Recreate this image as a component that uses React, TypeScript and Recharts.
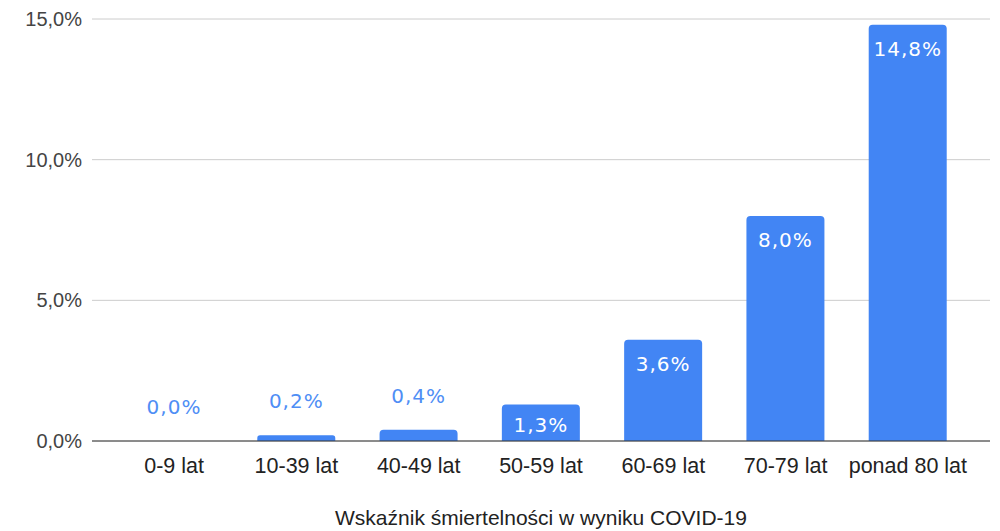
import { BarChart, Bar, XAxis, YAxis, CartesianGrid, LabelList, Rectangle } from 'recharts';

const categories = ['0-9 lat', '10-39 lat', '40-49 lat', '50-59 lat', '60-69 lat', '70-79 lat', 'ponad 80 lat'];
const rates = [0.0, 0.2, 0.4, 1.3, 3.6, 8.0, 14.8];
const yTicks = [0, 5, 10, 15];

const data = categories.map((name, i) => ({ name, value: rates[i] }));

const pct = (v: number) => v.toFixed(1).replace('.', ',') + '%';

// eslint-disable-next-line @typescript-eslint/no-explicit-any
function BarShape(props: any) {
  if (!props.value) return null;
  return <Rectangle {...props} />;
}

// eslint-disable-next-line @typescript-eslint/no-explicit-any
function BarLabel(props: any) {
  const { x, y, width, height, value } = props;
  const inside = value >= 1;
  const cx = x + width / 2;
  const cy = inside ? y + Math.min(24, height / 2 + 2) : y - 34;
  return (
    <text
      x={cx}
      y={cy}
      textAnchor="middle"
      dominantBaseline="central"
      fontFamily="'DejaVu Sans', Verdana, sans-serif"
      fontSize={20}
      letterSpacing={1}
      fill={inside ? '#ffffff' : '#4f8ef5'}
    >
      {pct(value)}
    </text>
  );
}

export default function App() {
  return (
    <div style={{ position: 'absolute', left: 0, top: 0, background: '#fff' }}>
      <BarChart
        width={1000}
        height={531}
        data={data}
        margin={{ top: 19, right: 10, left: 0, bottom: 0 }}
      >
        <CartesianGrid vertical={false} stroke="#cccccc" />
        <XAxis
          dataKey="name"
          padding={{ left: 21, right: 21 }}
          height={90}
          tickLine={false}
          tickSize={0}
          tickMargin={17}
          axisLine={{ stroke: '#333333' }}
          tick={{ fill: '#222222', fontSize: 21.5, fontFamily: 'Arial, "Liberation Sans", sans-serif' }}
          interval={0}
          label={{
            value: 'Wskaźnik śmiertelności w wyniku COVID-19',
            position: 'insideBottom',
            offset: 6,
            fill: '#222222',
            fontSize: 21,
            fontFamily: 'Arial, "Liberation Sans", sans-serif',
          }}
        />
        <YAxis
          width={92}
          domain={[0, 15]}
          ticks={yTicks}
          tickFormatter={pct}
          axisLine={false}
          tickLine={false}
          tickSize={0}
          tickMargin={10}
          tick={{ fill: '#444444', fontSize: 20, fontFamily: 'Arial, "Liberation Sans", sans-serif' }}
        />
        <Bar
          dataKey="value"
          fill="#4285f4"
          barSize={78}
          radius={[4, 4, 0, 0]}
          minPointSize={0.01}
          shape={<BarShape />}
          isAnimationActive={false}
        >
          <LabelList dataKey="value" content={<BarLabel />} />
        </Bar>
      </BarChart>
    </div>
  );
}
